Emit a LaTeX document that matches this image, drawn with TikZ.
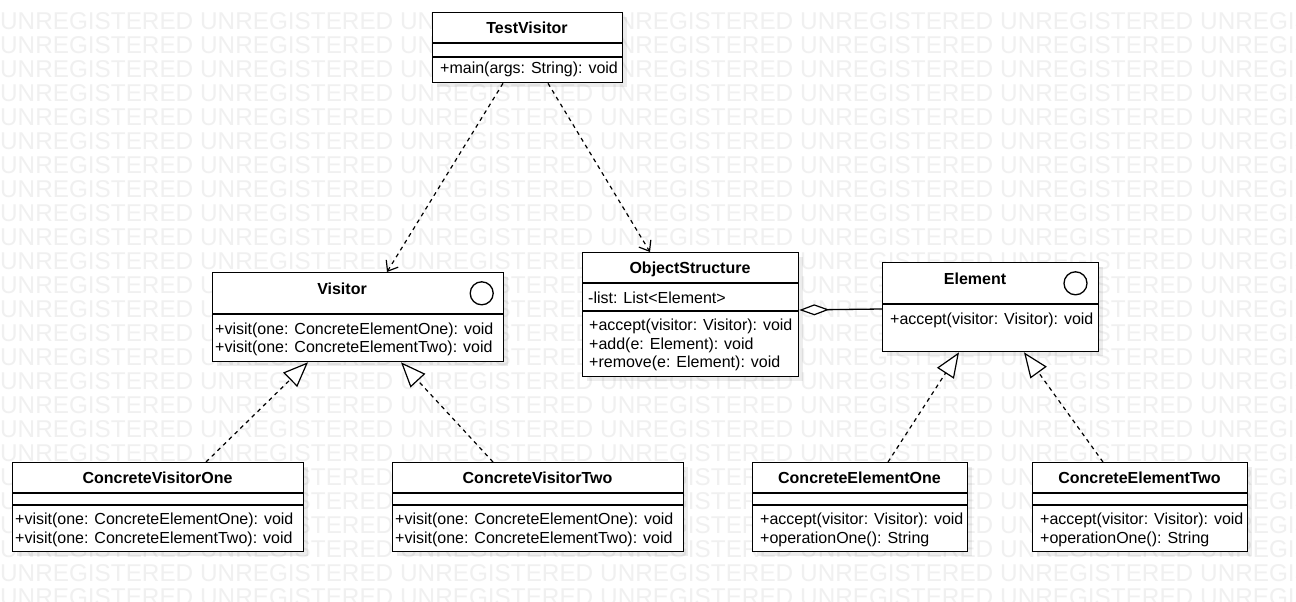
\documentclass[tikz,border=0pt]{standalone}
\usepackage{fontspec}
\setmainfont{Liberation Sans}
\usetikzlibrary{arrows.meta,shadows}
\tikzset{
  wm/.style={inner sep=0pt, anchor=base west, text=black!6, font=\fontsize{24.3}{26}\selectfont},
  umlbox/.style={draw=black, line width=1.3pt, fill=white, inner sep=0pt, anchor=north west,
     drop shadow={shadow xshift=4pt, shadow yshift=-4pt, fill=black, opacity=0.07}},
  sep/.style={draw=black, line width=1.3pt},
  ttl/.style={inner sep=0pt, anchor=base, font=\fontsize{16}{18}\selectfont\bfseries},
  mem/.style={inner sep=0pt, anchor=base west, font=\fontsize{16}{18}\selectfont},
  dep/.style={line width=1.2pt, dash pattern=on 4pt off 4pt, -{Straight Barb[length=9pt,width=14pt,line width=1.2pt]}},
  real/.style={line width=1.2pt, dash pattern=on 4pt off 4pt, -{Triangle[fill=white,length=25pt,width=20pt,line width=1.2pt]}},
  aggr/.style={line width=1.3pt, {Diamond[fill=white,length=30pt,width=11pt,line width=1.2pt]}-},
  iface/.style={draw=black, line width=1.3pt, circle, minimum size=23pt, inner sep=0pt}
}
\begin{document}
\begin{tikzpicture}[x=1pt,y=-1pt]
\useasboundingbox (0,0) rectangle (1296,602);
\fill[white] (0,0) rectangle (1296,602);
% watermark
\begin{scope}
\clip (0,0) rectangle (1296,602);
\foreach \r in {0,...,24}{
  \foreach \c in {0,...,6}{
    \node[wm] at ({200*\c},{29.5+24*\r}) {UNREGISTERED};
  }
}
\end{scope}

% TestVisitor
\node[umlbox, minimum width=190pt, minimum height=70pt] (tv) at (432,12) {};
\draw[sep] ([yshift=-31pt]tv.north west) -- ([yshift=-31pt]tv.north east);
\draw[sep] ([yshift=-45pt]tv.north west) -- ([yshift=-45pt]tv.north east);
\node[ttl] (tvt) at (527,34) {TestVisitor};
\node[mem] (tvm) at (440,74) {+main(args: String): void};

% Visitor
\node[umlbox, minimum width=291pt, minimum height=89pt] (vis) at (212,272) {};
\draw[sep] ([yshift=-42pt]vis.north west) -- ([yshift=-42pt]vis.north east);
\node[ttl] (vist) at (342,294.5) {Visitor};
\node[iface] (visc) at (481.7,293.3) {};
\node[mem] (vism1) at (215,334) {+visit(one: ConcreteElementOne): void};
\node[mem] (vism2) at (215,352.5) {+visit(one: ConcreteElementTwo): void};

% ObjectStructure
\node[umlbox, minimum width=216pt, minimum height=124pt] (os) at (582,252) {};
\draw[sep] ([yshift=-31pt]os.north west) -- ([yshift=-31pt]os.north east);
\draw[sep] ([yshift=-59pt]os.north west) -- ([yshift=-59pt]os.north east);
\node[ttl] (ost) at (690,273.5) {ObjectStructure};
\node[mem] (osa) at (588,303) {-list: List<Element>};
\node[mem] (osm1) at (589,330.5) {+accept(visitor: Visitor): void};
\node[mem] (osm2) at (589,349) {+add(e: Element): void};
\node[mem] (osm3) at (589,367.5) {+remove(e: Element): void};

% Element
\node[umlbox, minimum width=216pt, minimum height=89pt] (el) at (882,262) {};
\draw[sep] ([yshift=-42pt]el.north west) -- ([yshift=-42pt]el.north east);
\node[ttl] (elt) at (975,284.5) {Element};
\node[iface] (elc) at (1075.5,283.3) {};
\node[mem] (elm) at (890,324) {+accept(visitor: Visitor): void};

% ConcreteVisitorOne
\node[umlbox, minimum width=291pt, minimum height=89pt] (cvo) at (12,462) {};
\draw[sep] ([yshift=-31pt]cvo.north west) -- ([yshift=-31pt]cvo.north east);
\draw[sep] ([yshift=-43pt]cvo.north west) -- ([yshift=-43pt]cvo.north east);
\node[ttl] (cvot) at (157.5,483.5) {ConcreteVisitorOne};
\node[mem] (cvom1) at (15,524.5) {+visit(one: ConcreteElementOne): void};
\node[mem] (cvom2) at (15,543) {+visit(one: ConcreteElementTwo): void};

% ConcreteVisitorTwo
\node[umlbox, minimum width=291pt, minimum height=89pt] (cvt) at (392,462) {};
\draw[sep] ([yshift=-31pt]cvt.north west) -- ([yshift=-31pt]cvt.north east);
\draw[sep] ([yshift=-43pt]cvt.north west) -- ([yshift=-43pt]cvt.north east);
\node[ttl] (cvtt) at (537.5,483.5) {ConcreteVisitorTwo};
\node[mem] (cvtm1) at (395,524.5) {+visit(one: ConcreteElementOne): void};
\node[mem] (cvtm2) at (395,543) {+visit(one: ConcreteElementTwo): void};

% ConcreteElementOne
\node[umlbox, minimum width=215pt, minimum height=89pt] (ceo) at (752,462) {};
\draw[sep] ([yshift=-31pt]ceo.north west) -- ([yshift=-31pt]ceo.north east);
\draw[sep] ([yshift=-43pt]ceo.north west) -- ([yshift=-43pt]ceo.north east);
\node[ttl] (ceot) at (859.5,483.5) {ConcreteElementOne};
\node[mem] (ceom1) at (760,524.5) {+accept(visitor: Visitor): void};
\node[mem] (ceom2) at (760,543) {+operationOne(): String};

% ConcreteElementTwo
\node[umlbox, minimum width=215pt, minimum height=89pt] (cet) at (1032,462) {};
\draw[sep] ([yshift=-31pt]cet.north west) -- ([yshift=-31pt]cet.north east);
\draw[sep] ([yshift=-43pt]cet.north west) -- ([yshift=-43pt]cet.north east);
\node[ttl] (cett) at (1139.5,483.5) {ConcreteElementTwo};
\node[mem] (cetm1) at (1040,524.5) {+accept(visitor: Visitor): void};
\node[mem] (cetm2) at (1040,543) {+operationOne(): String};

% connectors
\draw[dep] ([xshift=71pt]tv.south west) -- ([xshift=175pt]vis.north west);
\draw[dep] ([xshift=116pt]tv.south west) -- ([xshift=68pt]os.north west);
\draw[real] ([xshift=194pt]cvo.north west) -- ([xshift=96pt]vis.south west);
\draw[real] ([xshift=101pt]cvt.north west) -- ([xshift=189pt]vis.south west);
\draw[real] ([xshift=136pt]ceo.north west) -- ([xshift=77pt]el.south west);
\draw[real] ([xshift=71pt]cet.north west) -- ([xshift=142pt]el.south west);
\draw[aggr] ([yshift=-58pt]os.north east) -- ([yshift=-47pt]el.north west);
\end{tikzpicture}
\end{document}
